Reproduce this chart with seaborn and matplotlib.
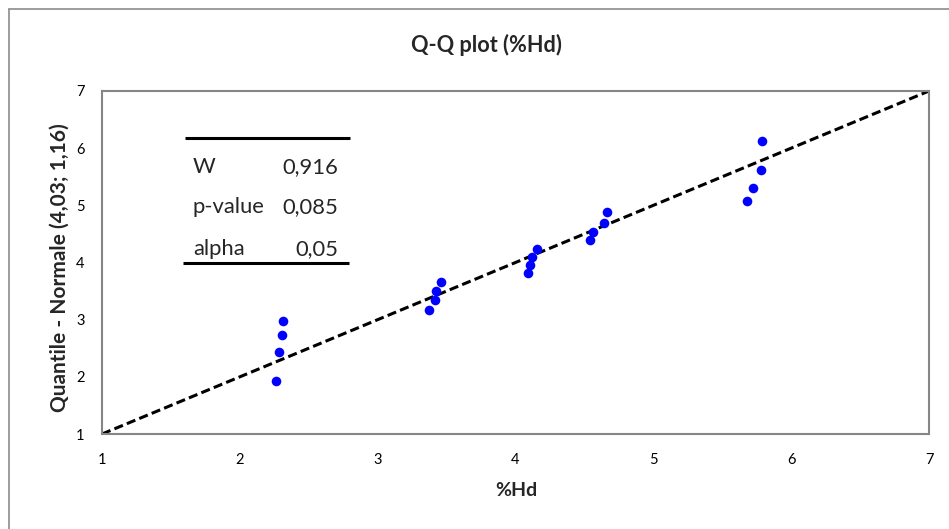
import matplotlib
matplotlib.use("Agg")
import matplotlib.pyplot as plt
import seaborn as sns
import pandas as pd
from matplotlib.lines import Line2D

# Data
hd = [2.265, 2.284, 2.304, 2.316,
      3.373, 3.414, 3.424, 3.460,
      4.094, 4.104, 4.123, 4.155,
      4.541, 4.565, 4.643, 4.662,
      5.681, 5.722, 5.782, 5.792]
quantile = [1.927, 2.429, 2.732, 2.977,
            3.169, 3.344, 3.507, 3.664,
            3.811, 3.956, 4.102, 4.242,
            4.388, 4.539, 4.696, 4.878,
            5.081, 5.309, 5.618, 6.125]
axis_ticks = [1, 2, 3, 4, 5, 6, 7]
stat_labels = ["W", "p-value", "alpha"]
stat_values = ["0,916", "0,085", "0,05"]

title = "Q-Q plot (%Hd)"
xlabel = "%Hd"
ylabel = "Quantile - Normale (4,03; 1,16)"

df = pd.DataFrame({"x": hd, "y": quantile})

sns.set_style("white")
plt.rcParams["font.family"] = ["Lato", "DejaVu Sans"]

W, H = 949, 529
fig = plt.figure(figsize=(W / 100, H / 100), dpi=100)
fig.patch.set_facecolor("white")
renderer = fig.canvas.get_renderer()


def fx(x):
    return x / W


def fy(y):
    return 1 - y / H


def fit(t, target, along="w"):
    bb = t.get_window_extent(renderer)
    cur = bb.width if along == "w" else bb.height
    t.set_fontsize(t.get_fontsize() * target / cur)


L, R, T, B = 102, 929, 91, 434
ax = fig.add_axes([fx(L), fy(B), (R - L) / W, (B - T) / H])

lo, hi = axis_ticks[0], axis_ticks[-1]
# reference line y = x across the axis range
sns.lineplot(x=[lo, hi], y=[lo, hi], ax=ax, color="black", linewidth=2.2,
             linestyle=(0, (3.0, 1.4)), zorder=2)
sns.scatterplot(data=df, x="x", y="y", ax=ax, color="#0000ff", s=48,
                linewidth=0, zorder=3)

ax.set_xlim(lo, hi)
ax.set_ylim(lo, hi)
ax.set_xticks(axis_ticks)
ax.set_yticks(axis_ticks)
ax.set_xticklabels([str(t) for t in axis_ticks])
ax.set_yticklabels([str(t) for t in axis_ticks])
ax.set_xlabel("")
ax.set_ylabel("")
for s in ax.spines.values():
    s.set_color("#868686")
    s.set_linewidth(1.5)
ax.tick_params(axis="both", direction="inout", length=6, width=1.2,
               color="#868686", labelsize=10.5, labelcolor="black")
ax.tick_params(axis="x", pad=10.5)
ax.tick_params(axis="y", pad=9.5)

# title and axis titles
t_title = fig.text(fx(486), fy(45), title, ha="center", va="center",
                   fontsize=14, fontweight="bold")
fit(t_title, 151, "w")
t_x = fig.text(fx(516), fy(490), xlabel, ha="center", va="center",
               fontsize=12, fontweight="bold")
fit(t_x, 42, "w")
t_y = fig.text(fx(60), fy(268), ylabel, ha="center", va="center",
               rotation=90, fontsize=12, fontweight="bold")
fit(t_y, 287, "h")

# statistics table
def dx(p):
    return lo + (p - L) / (R - L) * (hi - lo)


def dy(p):
    return hi - (p - T) / (B - T) * (hi - lo)


ax.plot([dx(185), dx(350)], [dy(138), dy(138)], color="black", lw=2.2,
        solid_capstyle="butt", clip_on=False)
ax.plot([dx(183), dx(349)], [dy(263), dy(263)], color="black", lw=2.2,
        solid_capstyle="butt", clip_on=False)

probe = ax.text(0, 0, stat_labels[1], fontsize=12)
fit(probe, 72, "w")
tab_fs = probe.get_fontsize()
probe.remove()

rows_base = [173.3, 213.3, 255.0]
for lab, val, ry in zip(stat_labels, stat_values, rows_base):
    ax.text(dx(193), dy(ry), lab, ha="left", va="baseline", fontsize=tab_fs)
    ax.text(dx(338.5), dy(ry), val, ha="right", va="baseline", fontsize=tab_fs)

# outer chart border (left & top visible; chart continues beyond the crop)
fig.add_artist(Line2D([fx(9), fx(9)], [0, fy(9)], transform=fig.transFigure,
                      color="#8c8c8c", lw=1.2))
fig.add_artist(Line2D([fx(9), 1], [fy(9), fy(9)], transform=fig.transFigure,
                      color="#8c8c8c", lw=1.2))

fig.savefig("out.png", dpi=100, facecolor="white")
